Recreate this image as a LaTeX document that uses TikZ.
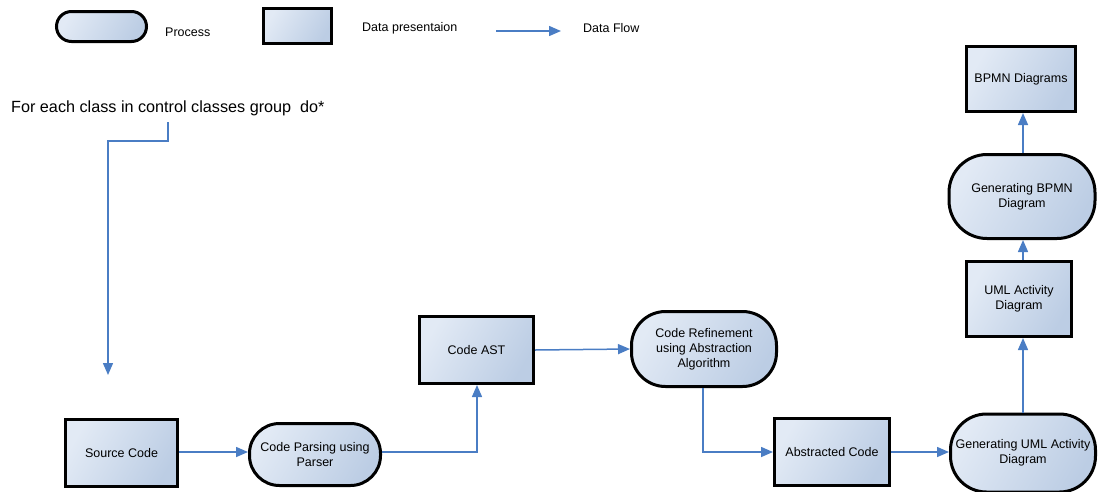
\documentclass[tikz,border=0pt]{standalone}
\usepackage{fontspec}
\setmainfont{Liberation Sans}
\usetikzlibrary{arrows.meta}
\definecolor{fillA}{HTML}{E2EAF5}
\definecolor{fillB}{HTML}{BCCDE4}
\definecolor{flow}{HTML}{4A7DC4}
\tikzset{
  shapefill/.style={draw=black, line width=3pt, shade, shading=axis,
    left color=fillA, right color=fillB, shading angle=60,
    inner sep=0pt, align=center, font=\fontsize{12.5}{15}\selectfont},
  process/.style={shapefill, rounded corners=#1},
  datanode/.style={shapefill},
  label/.style={inner sep=0pt, font=\fontsize{12.5}{15}\selectfont},
  flowline/.style={draw=flow, line width=1.5pt,
    -{Triangle[length=12pt,width=10pt]}},
}
\begin{document}
\begin{tikzpicture}[x=1pt,y=-1pt]
\useasboundingbox (0,0) rectangle (1098,491);

% legend
\node[process=15pt, minimum width=90pt, minimum height=30pt] (legProc) at (101.5,26.5) {};
\node[label, anchor=west] (legProcText) at (165,32) {Process};
\node[datanode, minimum width=68pt, minimum height=35pt] (legData) at (297.5,26) {};
\node[label, anchor=west] (legDataText) at (362,28) {Data presentaion};
\coordinate (legFlowA) at (496,31);
\coordinate (legFlowB) at (561,31);
\draw[flowline] (legFlowA) -- (legFlowB);
\node[label, anchor=west] (legFlowText) at (583,28) {Data Flow};

% loop annotation
\node[label, anchor=west, font=\fontsize{16.2}{19}\selectfont] (loop) at (11,108) {For each class in control classes group\ \ do*};
\coordinate (loopA) at (168,122);
\coordinate (loopB) at (108,141);
\coordinate (loopC) at (108,375);
\draw[flowline] (loopA) |- (loopB) -- (loopC);

% main flow
\node[datanode, minimum width=112pt, minimum height=67pt] (src) at (121.5,453) {Source Code};
\node[process=30pt, minimum width=131pt, minimum height=62pt] (parse) at (315,454.5) {Code Parsing using\\Parser};
\node[datanode, minimum width=114pt, minimum height=67pt] (ast) at (476.5,350) {Code AST};
\node[process=34pt, minimum width=145pt, minimum height=75pt] (refine) at (704,349) {Code Refinement\\using Abstraction\\Algorithm};
\node[datanode, minimum width=115pt, minimum height=67pt] (abs) at (832,452) {Abstracted Code};
\node[process=36pt, minimum width=145pt, minimum height=78pt] (genuml) at (1023,453) {Generating UML Activity\\Diagram};
\node[datanode, minimum width=105pt, minimum height=75pt] (uml) at (1019,299) {UML Activity\\Diagram};
\node[process=38pt, minimum width=146pt, minimum height=84pt] (genbpmn) at (1022,196.5) {Generating BPMN\\Diagram};
\node[datanode, minimum width=109pt, minimum height=65pt] (bpmn) at (1021,79) {BPMN Diagrams};

\draw[flowline] (src.east |- 0,452) -- (parse.west |- 0,452);
\draw[flowline] (parse.east |- 0,452) -| (ast.south -| 477,0);
\draw[flowline] (ast.east) -- (refine.west);
\draw[flowline] (refine.south -| 703,0) |- (abs.west);
\draw[flowline] (abs.east) -- (genuml.west |- abs.east);
\draw[flowline] (genuml.north -| 1023,0) -- (uml.south -| 1023,0);
\draw[flowline] (uml.north -| 1023,0) -- (genbpmn.south -| 1023,0);
\draw[flowline] (genbpmn.north -| 1023,0) -- (bpmn.south -| 1023,0);
\end{tikzpicture}
\end{document}
